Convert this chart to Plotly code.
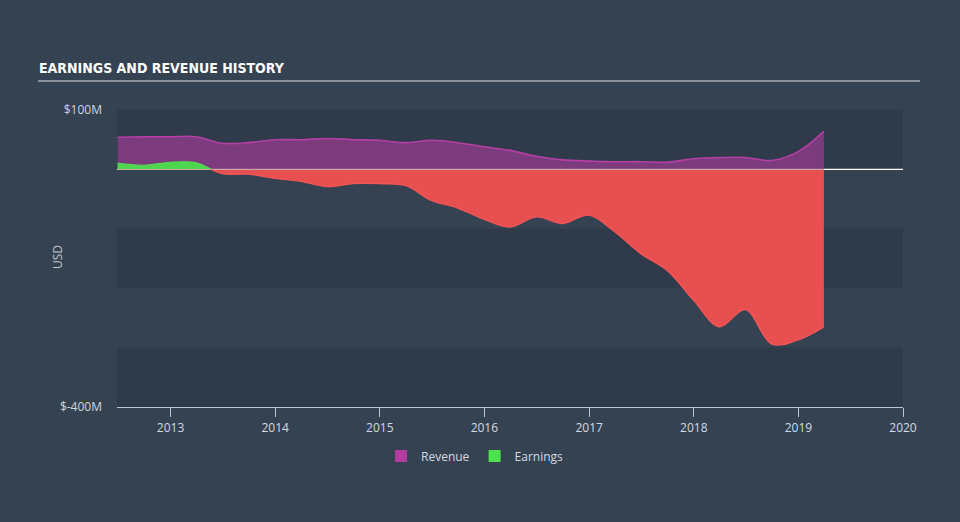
import plotly.graph_objects as go

dates = ["2012-06-30", "2012-09-30", "2012-12-31", "2013-03-31", "2013-06-30", "2013-09-30",
         "2013-12-31", "2014-03-31", "2014-06-30", "2014-09-30", "2014-12-31", "2015-03-31",
         "2015-06-30", "2015-09-30", "2015-12-31", "2016-03-31", "2016-06-30", "2016-09-30",
         "2016-12-31", "2017-03-31", "2017-06-30", "2017-09-30", "2017-12-31", "2018-03-31",
         "2018-06-30", "2018-09-30", "2018-12-31", "2019-03-31"]

revenue = [54, 55, 55, 55, 44, 45, 50, 50, 52, 50, 49, 45, 49, 45, 38, 32, 22, 16,
           14, 13, 13, 12, 18, 20, 20, 15, 30, 64]

earnings = [10, 7, 12, 11, -7, -8, -15, -20, -29, -24, -24, -27, -52, -65, -84, -97, -80, -91,
            -77, -105, -142, -170, -220, -265, -236, -294, -287, -265]

y_ticks = [100, -400]
y_tick_labels = ["$100M", "$-400M"]
x_ticks = ["2013-01-01", "2014-01-01", "2015-01-01", "2016-01-01", "2017-01-01",
           "2018-01-01", "2019-01-01", "2020-01-01"]
x_tick_labels = ["2013", "2014", "2015", "2016", "2017", "2018", "2019", "2020"]
bands = [(0, 100), (-200, -100), (-400, -300)]

Y_MIN, Y_MAX = -400, 100
zero_frac = (0 - Y_MIN) / (Y_MAX - Y_MIN)

BG = "#354252"
BAND = "#2f3b4a"
FONT = "Open Sans"

# plot area in pixels
L, R, T, B = 117, 903, 110, 407
PW, PH = R - L, B - T

def px(x):
    return (x - L) / PW

def py(y):
    return (B - y) / PH

fig = go.Figure()

# Revenue
fig.add_trace(go.Scatter(
    x=dates, y=revenue, mode="lines", line=dict(color="#b53fa5", width=1.6, shape="spline"),
    fill="tozeroy", fillcolor="rgba(176,60,160,0.6)", showlegend=False, hoverinfo="skip",
    xaxis="x", yaxis="y"))

# Earnings above zero (green) - clipped to upper subplot
fig.add_trace(go.Scatter(
    x=dates, y=earnings, mode="lines", line=dict(color="#52dd52", width=1.2, shape="spline"),
    fill="tozeroy", fillcolor="#4fd64f", showlegend=False, hoverinfo="skip",
    xaxis="x", yaxis="y2"))

# Earnings below zero (red) - clipped to lower subplot
fig.add_trace(go.Scatter(
    x=dates, y=earnings, mode="lines", line=dict(color="#f25555", width=1.4, shape="spline"),
    fill="tozeroy", fillcolor="#e84f51", showlegend=False, hoverinfo="skip",
    xaxis="x", yaxis="y3"))

# Legend dummies
fig.add_trace(go.Scatter(x=[None], y=[None], mode="markers", name="Revenue",
                         marker=dict(symbol="square", size=16, color="#b03ca0")))
fig.add_trace(go.Scatter(x=[None], y=[None], mode="markers", name="Earnings",
                         marker=dict(symbol="square", size=16, color="#4ee34e")))

shapes = []
for lo, hi in bands:
    shapes.append(dict(type="rect", xref="paper", yref="y", x0=0, x1=1, y0=lo, y1=hi,
                       fillcolor=BAND, line=dict(width=0), layer="below"))
shapes.append(dict(type="line", xref="paper", yref="y", x0=0, x1=1, y0=0, y1=0,
                   line=dict(color="#ffffff", width=1.3), layer="below"))
# title underline
shapes.append(dict(type="line", xref="paper", yref="paper",
                   x0=px(38), x1=px(920), y0=py(81), y1=py(81),
                   line=dict(color="#a7adb4", width=1.5)))

fig.update_layout(
    width=960, height=522,
    margin=dict(l=L, r=960 - R, t=T, b=522 - B),
    paper_bgcolor=BG, plot_bgcolor="rgba(0,0,0,0)",
    font=dict(family=FONT, color="#d0d5db", size=12),
    shapes=shapes,
    xaxis=dict(type="date", range=["2012-06-28", "2020-01-01"], tickvals=x_ticks,
               ticktext=x_tick_labels, showgrid=False, zeroline=False,
               showline=True, linecolor="#b9c6d3", linewidth=1.2,
               ticks="outside", ticklen=9, tickcolor="#b9c6d3", tickwidth=1,
               tickfont=dict(size=12, color="#d5dae0", family=FONT), anchor="y"),
    yaxis=dict(range=[Y_MIN, Y_MAX], tickvals=y_ticks, ticktext=y_tick_labels,
               showgrid=False, zeroline=False, showline=False, ticks="",
               ticklabelstandoff=14,
               tickfont=dict(size=12, color="#d0d5db", family=FONT),
               domain=[0, 1], anchor="x"),
    yaxis2=dict(range=[0, Y_MAX], domain=[zero_frac, 1], anchor="x", visible=False,
                showgrid=False, zeroline=False),
    yaxis3=dict(range=[Y_MIN, 0], domain=[0, zero_frac], anchor="x", visible=False,
                showgrid=False, zeroline=False),
    legend=dict(orientation="h", x=px(475), xanchor="center", y=py(456), yanchor="middle",
                font=dict(size=12, color="#d5dae0", family=FONT),
                bgcolor="rgba(0,0,0,0)", itemsizing="constant"),
    annotations=[
        dict(text="<b>EARNINGS AND REVENUE HISTORY</b>", xref="paper", yref="paper",
             x=px(37), y=py(68), xanchor="left", yanchor="middle",
             showarrow=False,
             font=dict(family="DejaVu Sans Condensed, Liberation Sans Narrow, sans-serif",
                       size=14, color="#ffffff")),
        dict(text="USD", xref="paper", yref="paper", x=px(57), y=py(257),
             xanchor="center", yanchor="middle", textangle=-90, showarrow=False,
             font=dict(size=12, color="#c0c6cd", family=FONT)),
    ],
)

fig.write_html("out.html")
